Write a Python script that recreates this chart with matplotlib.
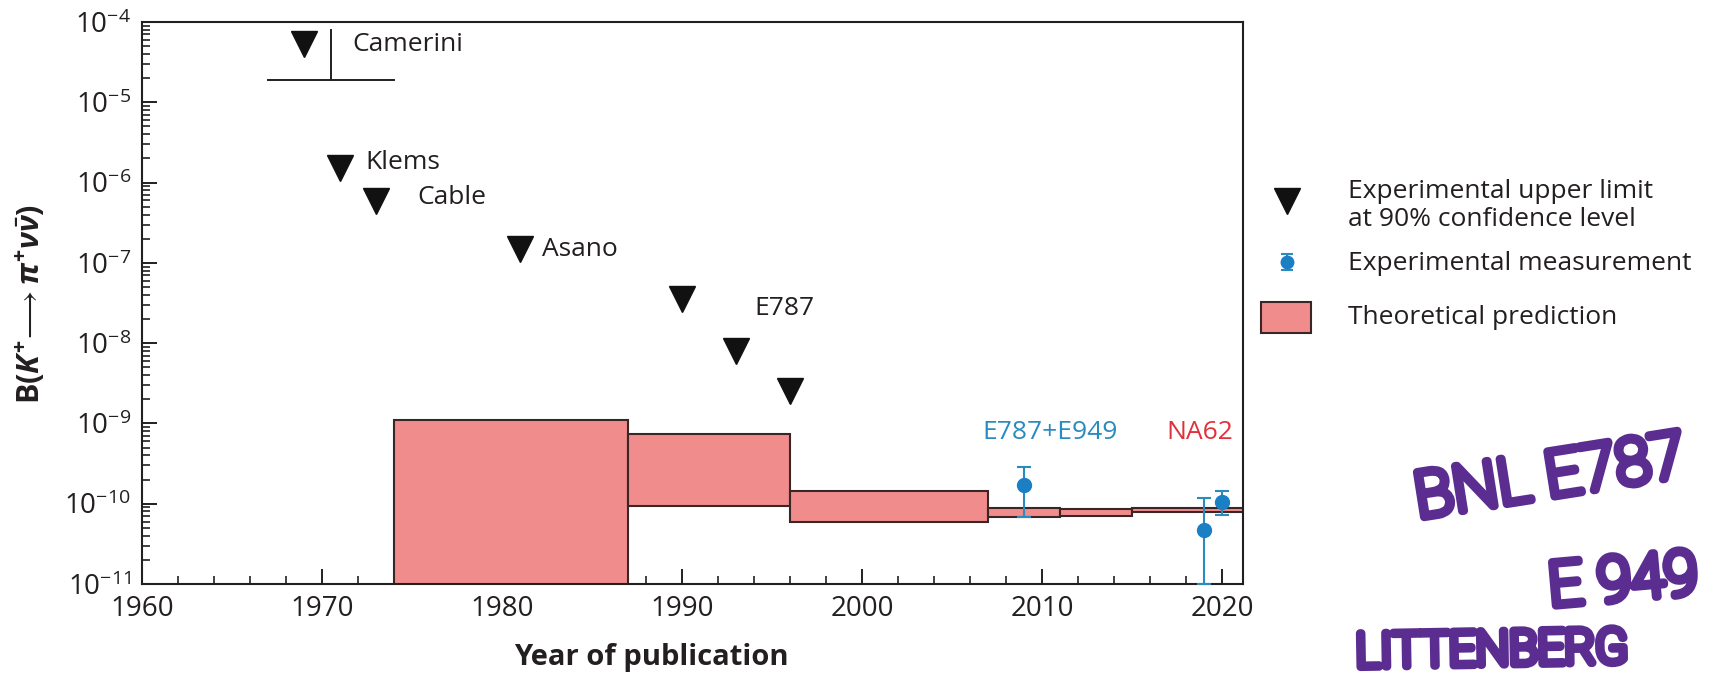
import matplotlib
matplotlib.use("Agg")
import matplotlib.pyplot as plt
from matplotlib.patches import Rectangle
from matplotlib.ticker import LogLocator, MultipleLocator, NullFormatter
import matplotlib.patheffects as pe
import numpy as np

# ---- data -------------------------------------------------------------
# experimental upper limits (90% CL)
limit_names = ["Camerini", "Klems", "Cable", "Asano", "E787", "E787", "E787"]
limit_years = [1969, 1971, 1973, 1981, 1990, 1993, 1996]
limit_values = [5.3e-5, 1.5e-6, 5.9e-7, 1.5e-7, 3.5e-8, 8.0e-9, 2.5e-9]

# Camerini sensitivity bracket
camerini_bar_x = [1967, 1974]
camerini_bar_y = 1.9e-5
camerini_stem_x = 1970.5
camerini_stem_y = [1.9e-5, 8.0e-5]

# theoretical predictions: [start, end) year, lower, upper
theory_start = [1974, 1987, 1996, 2007, 2011, 2015]
theory_end = [1987, 1996, 2007, 2011, 2015, 2022]
theory_low = [1e-12, 9.5e-11, 5.9e-11, 6.9e-11, 7.1e-11, 7.9e-11]
theory_high = [1.1e-9, 7.4e-10, 1.45e-10, 8.8e-11, 8.6e-11, 8.9e-11]

# measurements
meas_names = ["E787+E949", "NA62", "NA62"]
meas_years = [2009, 2019, 2020]
meas_values = [1.73e-10, 4.7e-11, 1.06e-10]
meas_err_up = [1.15e-10, 7.2e-11, 4.0e-11]
meas_err_down = [1.05e-10, 4.7e-11, 3.4e-11]

x_ticks = [1960, 1970, 1980, 1990, 2000, 2010, 2020]

# ---- style ------------------------------------------------------------
plt.rcParams["font.family"] = ["Open Sans", "DejaVu Sans"]
plt.rcParams["mathtext.fontset"] = "custom"
plt.rcParams["mathtext.rm"] = "Open Sans"
plt.rcParams["mathtext.it"] = "Open Sans:italic:bold"
plt.rcParams["mathtext.bf"] = "Open Sans:bold"
plt.rcParams["mathtext.fallback"] = "stixsans"

INK = "#231f20"
PINK = "#f08c8c"
EDGE = "#3a2626"
BLUE = "#1b7fc4"
BLUE_LINE = "#2a8bbf"
RED = "#e0313b"
PURPLE = "#5b2d91"

W, H = 1716, 673
fig = plt.figure(figsize=(W / 100, H / 100), dpi=100)
ax = fig.add_axes([142 / W, 1 - 584 / H, (1243 - 142) / W, (584 - 22) / H])

ax.set_yscale("log")
ax.set_xlim(1960, 2021.17)
ax.set_ylim(1e-11, 1e-4)

# theory boxes
for x0, x1, lo, hi in zip(theory_start, theory_end, theory_low, theory_high):
    ax.bar(x0, hi - lo, width=x1 - x0, bottom=lo, align="edge",
           color=PINK, edgecolor=EDGE, linewidth=1.5, zorder=2)

# upper limits
ax.plot(limit_years, limit_values, linestyle="none", marker="v",
        markersize=19, color="#111111", zorder=3)

# Camerini bracket
ax.plot(camerini_bar_x, [camerini_bar_y] * 2, color=INK, lw=1.4, zorder=3)
ax.plot([camerini_stem_x] * 2, camerini_stem_y, color=INK, lw=1.4, zorder=3)

# measurements
ylo = ax.get_ylim()[0]
lower = [max(v - d, ylo) for v, d in zip(meas_values, meas_err_down)]
yerr = [np.array(meas_values) - np.array(lower), meas_err_up]
ax.errorbar(meas_years, meas_values, yerr=yerr, fmt="o", color=BLUE,
            ecolor=BLUE_LINE, elinewidth=1.5, capsize=5, capthick=1.5,
            markersize=10, zorder=4, clip_on=False)

# labels on the points
label_kw = dict(fontsize=19, color=INK, va="center", ha="left")
ax.text(1971.7, 5.3e-5, "Camerini", **label_kw)
ax.text(1972.4, 1.8e-6, "Klems", **label_kw)
ax.text(1975.3, 6.6e-7, "Cable", **label_kw)
ax.text(1982.2, 1.48e-7, "Asano", **label_kw)
ax.text(1994.0, 2.7e-8, "E787", **label_kw)
ax.text(2006.7, 7.8e-10, "E787+E949", fontsize=19, color=BLUE_LINE,
        va="center", ha="left")
ax.text(2016.9, 7.8e-10, "NA62", fontsize=19, color=RED, va="center",
        ha="left")

# axes cosmetics
ax.set_xticks(x_ticks)
ax.xaxis.set_minor_locator(MultipleLocator(2))
ax.yaxis.set_major_locator(LogLocator(base=10, numticks=20))
ax.yaxis.set_minor_locator(LogLocator(base=10, subs=np.arange(2, 10), numticks=20))
ax.yaxis.set_minor_formatter(NullFormatter())
ax.tick_params(which="major", direction="in", length=11, width=1.4,
               color=INK, labelsize=20, labelcolor=INK, pad=8)
ax.tick_params(which="minor", direction="in", length=5.5, width=1.2, color=INK)
ax.tick_params(axis="x", which="both", top=False)
ax.tick_params(axis="y", which="both", right=False)
for s in ax.spines.values():
    s.set_linewidth(1.5)
    s.set_color(INK)

ax.set_ylabel(r"$\mathbf{B(}K^{\mathbf{+}}\!\longrightarrow\pi^{\mathbf{+}}\nu\bar{\nu}\mathbf{)}$",
              fontsize=22, color=INK, va="center")
ax.yaxis.set_label_coords(-0.1015, 0.498)
ax.set_xlabel("Year of publication", fontsize=21, fontweight="bold",
              color=INK, va="center")
ax.xaxis.set_label_coords(0.463, -0.13)

# ---- legend (pixel coordinates) --------------------------------------
lg = fig.add_axes([0, 0, 1, 1], zorder=5)
lg.set_xlim(0, W)
lg.set_ylim(H, 0)
lg.axis("off")
lg.plot([1287], [201], marker="v", markersize=19, color="#111111",
        linestyle="none")
lg.errorbar([1287], [262], yerr=[[8], [8]], fmt="o", color=BLUE,
            ecolor=BLUE_LINE, elinewidth=1.5, capsize=4, capthick=1.5,
            markersize=9)
lg.add_patch(Rectangle((1261, 302), 50, 31, facecolor=PINK,
                       edgecolor=EDGE, linewidth=1.5))
leg_kw = dict(fontsize=19, color=INK, va="center", ha="left")
lg.text(1348, 191, "Experimental upper limit", **leg_kw)
lg.text(1348, 219, "at 90% confidence level", **leg_kw)
lg.text(1348, 263, "Experimental measurement", **leg_kw)
lg.text(1348, 318, "Theoretical prediction", **leg_kw)

# ---- handwritten note -------------------------------------------------
hand = [pe.Stroke(linewidth=6, foreground=PURPLE, joinstyle="round",
                  capstyle="round"), pe.Normal()]
note_kw = dict(color=PURPLE, fontweight="light", family="Roboto",
               path_effects=hand, ha="left", va="baseline",
               rotation_mode="anchor")
lg.text(1418, 518, "BNL E787", fontsize=46, rotation=9, **note_kw)
lg.text(1550, 606, "E 949", fontsize=44, rotation=5, **note_kw)
lg.text(1356, 667, "LITTENBERG", fontsize=34, rotation=1, **note_kw)

fig.savefig("out.png", dpi=100)
